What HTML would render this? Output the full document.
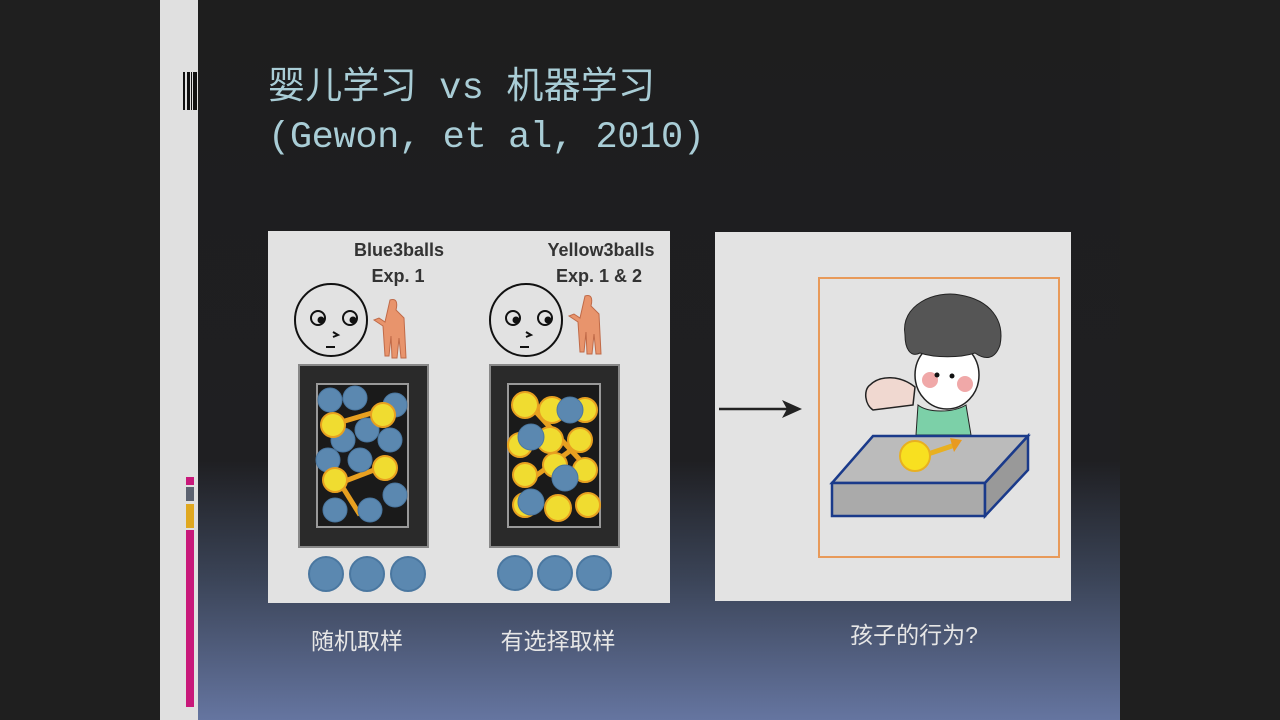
<!DOCTYPE html>
<html><head><meta charset="utf-8"><style>
html,body{margin:0;padding:0;width:1280px;height:720px;overflow:hidden;background:#1f1f1f}
svg{display:block}
</style></head><body>
<svg width="1280" height="720" xmlns="http://www.w3.org/2000/svg">
<defs>
<linearGradient id="bg" x1="0" y1="0" x2="0" y2="1">
<stop offset="0" stop-color="#1e1e1e"/><stop offset="0.64" stop-color="#1f1f22"/><stop offset="0.8" stop-color="#3a4356"/><stop offset="1" stop-color="#6575a0"/>
</linearGradient>
</defs>
<rect width="1280" height="720" fill="#1f1f1f"/>
<rect x="198" y="0" width="922" height="720" fill="url(#bg)"/>
<rect x="160" y="0" width="38" height="720" fill="#e0e0e0"/>
<g fill="#111">
<rect x="183" y="72" width="2" height="38"/><rect x="187" y="72" width="3" height="38"/><rect x="191" y="72" width="1" height="38"/><rect x="193" y="72" width="4" height="38"/>
</g>
<rect x="186" y="477" width="8" height="8" fill="#c8187a"/>
<rect x="186" y="487" width="8" height="14" fill="#5c6270"/>
<rect x="186" y="504" width="8" height="24" fill="#e0a820"/>
<rect x="186" y="530" width="8" height="177" fill="#c8187a"/>
<g fill="#a9cdd6" font-family="'Liberation Mono','Noto Sans CJK SC',monospace" font-size="37">
<text x="268" y="98" textLength="387" lengthAdjust="spacing">婴儿学习 vs 机器学习</text>
<text x="268" y="147" textLength="437" lengthAdjust="spacing">(Gewon, et al, 2010)</text>
</g>
<!-- left panel -->
<rect x="268" y="231" width="402" height="372" fill="#e2e2e2"/>
<g font-family="'Liberation Sans',sans-serif" font-weight="bold" font-size="18" fill="#333" text-anchor="middle">
<text x="399" y="256">Blue3balls</text><text x="398" y="282">Exp. 1</text>
<text x="601" y="256">Yellow3balls</text><text x="599" y="282">Exp. 1 &amp; 2</text>
</g>
<g fill="none" stroke="#111" stroke-width="2">
<circle cx="331" cy="320" r="36"/><circle cx="526" cy="320" r="36"/>
<circle cx="318" cy="318" r="7"/><circle cx="350" cy="318" r="7"/>
<circle cx="513" cy="318" r="7"/><circle cx="545" cy="318" r="7"/>
<path d="M333 332l5 3-5 2M326 347h9M526 332l5 3-5 2M520 347h9"/>
</g>
<g fill="#111"><circle cx="321" cy="320" r="3.5"/><circle cx="353" cy="320" r="3.5"/><circle cx="516" cy="320" r="3.5"/><circle cx="548" cy="320" r="3.5"/></g>
<g fill="#e8946c" stroke="#c06a48" stroke-width="1">
<path d="M390 300c6-2 8 2 6 10l8 8 2 40-5 0-2-20-2 20-5 0-1-22-2 20-4 0-2-30-9-6 5-2 6 4z"/>
<path d="M585 296c6-2 8 2 6 10l8 8 2 40-5 0-2-20-2 20-5 0-1-22-2 20-4 0-2-30-9-6 5-2 6 4z"/>
</g>
<g>
<rect x="299" y="365" width="129" height="182" fill="#2a2a2a" stroke="#888" stroke-width="2"/>
<rect x="317" y="384" width="91" height="143" fill="#1a1a1a" stroke="#999" stroke-width="2"/>
<rect x="490" y="365" width="129" height="182" fill="#2a2a2a" stroke="#888" stroke-width="2"/>
<rect x="508" y="384" width="92" height="143" fill="#1a1a1a" stroke="#999" stroke-width="2"/>
</g>
<g stroke="#e8a020" stroke-width="5"><line x1="338" y1="423" x2="382" y2="410"/><line x1="340" y1="483" x2="382" y2="467"/><line x1="340" y1="483" x2="360" y2="515"/><line x1="525" y1="400" x2="580" y2="460"/><line x1="530" y1="480" x2="585" y2="440"/></g>
<g fill="#5b88b0" stroke="#4a77a0">
<circle cx="330" cy="400" r="12"/><circle cx="355" cy="398" r="12"/><circle cx="395" cy="405" r="12"/><circle cx="343" cy="440" r="12"/><circle cx="367" cy="430" r="12"/><circle cx="390" cy="440" r="12"/><circle cx="328" cy="460" r="12"/><circle cx="360" cy="460" r="12"/><circle cx="395" cy="495" r="12"/><circle cx="335" cy="510" r="12"/><circle cx="370" cy="510" r="12"/>
</g>
<g fill="#f0dc30" stroke="#e8a020" stroke-width="2">
<circle cx="333" cy="425" r="12"/><circle cx="383" cy="415" r="12"/><circle cx="385" cy="468" r="12"/><circle cx="335" cy="480" r="12"/>
<circle cx="525" cy="405" r="13"/><circle cx="552" cy="410" r="13"/><circle cx="585" cy="410" r="12"/><circle cx="520" cy="445" r="12"/><circle cx="550" cy="440" r="13"/><circle cx="580" cy="440" r="12"/><circle cx="525" cy="475" r="12"/><circle cx="555" cy="465" r="12"/><circle cx="585" cy="470" r="12"/><circle cx="525" cy="505" r="12"/><circle cx="558" cy="508" r="13"/><circle cx="588" cy="505" r="12"/>
</g>
<g fill="#5b88b0" stroke="#4a77a0"><circle cx="570" cy="410" r="13"/><circle cx="531" cy="437" r="13"/><circle cx="565" cy="478" r="13"/><circle cx="531" cy="502" r="13"/></g>
<g fill="#5b88b0" stroke="#4a77a0" stroke-width="2">
<circle cx="326" cy="574" r="17"/><circle cx="367" cy="574" r="17"/><circle cx="408" cy="574" r="17"/>
<circle cx="515" cy="573" r="17"/><circle cx="555" cy="573" r="17"/><circle cx="594" cy="573" r="17"/>
</g>
<!-- right panel -->
<rect x="715" y="232" width="356" height="369" fill="#e3e3e3"/>
<line x1="719" y1="409" x2="790" y2="409" stroke="#222" stroke-width="2.5"/>
<path d="M802 409l-20-9 5 9-5 9z" fill="#222"/>
<rect x="819" y="278" width="240" height="279" fill="none" stroke="#e89a5a" stroke-width="2"/>
<path d="M870 385c10-10 30-10 45 2l-2 18-40 5c-8-5-10-20-3-25z" fill="#f0d8d0" stroke="#222" stroke-width="1.5"/>
<ellipse cx="947" cy="375" rx="32" ry="34" fill="#fff" stroke="#222" stroke-width="1.5"/>
<path d="M905 335c-5-30 30-45 55-40 30 5 45 25 40 50-5 15-15 15-25 8-15 5-40 5-55 0-10 5-15-5-15-18z" fill="#555" stroke="#222"/>
<circle cx="930" cy="380" r="8" fill="#f0a8a8"/><circle cx="965" cy="384" r="8" fill="#f0a8a8"/>
<circle cx="937" cy="375" r="2.5" fill="#111"/><circle cx="952" cy="376" r="2.5" fill="#111"/>
<path d="M918 405c10 8 35 8 48 0l5 30h-55z" fill="#7cd0a8" stroke="#222"/>
<polygon points="873,436 1028,436 985,483 832,483" fill="#bbb" stroke="#1a3a8a" stroke-width="2.5"/>
<polygon points="832,483 985,483 985,516 832,516" fill="#aaa" stroke="#1a3a8a" stroke-width="2.5"/>
<polygon points="985,483 1028,436 1028,470 985,516" fill="#999" stroke="#1a3a8a" stroke-width="2.5"/>
<line x1="925" y1="455" x2="955" y2="445" stroke="#e8b020" stroke-width="5"/>
<path d="M950 438l12 2-8 12z" fill="#e89a20"/>
<circle cx="915" cy="456" r="15" fill="#f8e020" stroke="#e8b020" stroke-width="2"/>
<g fill="#e6e6e6" font-family="'Liberation Sans','Noto Sans CJK SC',sans-serif" font-size="23" text-anchor="middle">
<text x="357" y="649">随机取样</text>
<text x="558" y="649">有选择取样</text>
<text x="914" y="643">孩子的行为?</text>
</g>
</svg>
</body></html>
